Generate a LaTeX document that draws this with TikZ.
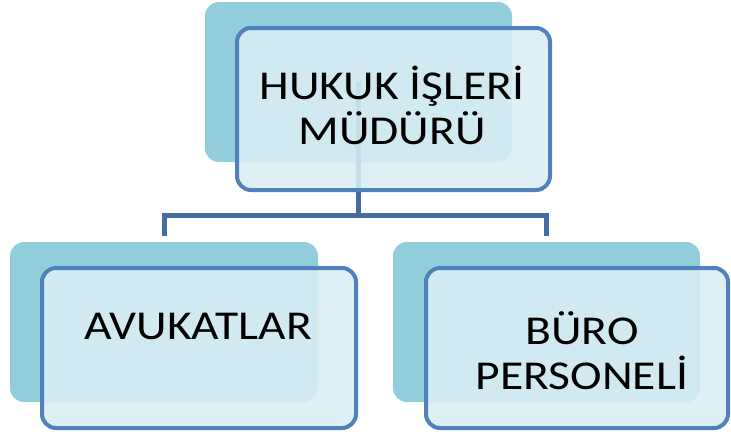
\documentclass[tikz,border=0pt]{standalone}
\usepackage{fontspec}
\setmainfont{Carlito}[FakeStretch=1.16]
\usetikzlibrary{calc}
\definecolor{backc}{RGB}{146,205,220}
\definecolor{frontc}{RGB}{218,238,243}
\definecolor{edgec}{RGB}{79,129,189}
\definecolor{linkc}{RGB}{68,108,160}
\tikzset{
  backbox/.style={rectangle, rounded corners=14pt, fill=backc, draw=none, inner sep=0pt},
  frontbox/.style={rectangle, rounded corners=14pt, fill=frontc, fill opacity=0.88, draw=edgec, line width=4pt, inner sep=0pt},
  label text/.style={font=\fontsize{41}{45}\selectfont, text=black, align=center, inner sep=0pt},
  link/.style={draw=linkc, line width=5pt}
}
\begin{document}
\begin{tikzpicture}[x=1pt,y=-1pt]
\useasboundingbox (0,0) rectangle (731,437);
% back boxes
\node[backbox, minimum width=307pt, minimum height=160pt] (tb) at (358.5,82) {};
\node[backbox, minimum width=308pt, minimum height=160pt] (lb) at (164,322) {};
\node[backbox, minimum width=307pt, minimum height=160pt] (rb) at (546.5,322) {};
% connectors
\coordinate (j) at (358.5,215);
\coordinate (lend) at (164,236);
\coordinate (rend) at (546.5,236);
\draw[link] (tb.center) -- (j);
\draw[link] (lend) |- (j) -| (rend);
% front boxes
\node[frontbox, minimum width=313pt, minimum height=162pt] (tf) at (393.5,109) {};
\node[frontbox, minimum width=314pt, minimum height=160pt] (lf) at (199,348) {};
\node[frontbox, minimum width=302pt, minimum height=160pt] (rf) at (577,348) {};
% texts
\node[label text] (tt) at (392,105) {HUKUK İŞLERİ\\MÜDÜRÜ};
\node[label text] (lt) at (198,326) {AVUKATLAR};
\node[label text] (rt) at (582,351) {BÜRO\\PERSONELİ};
\end{tikzpicture}
\end{document}
